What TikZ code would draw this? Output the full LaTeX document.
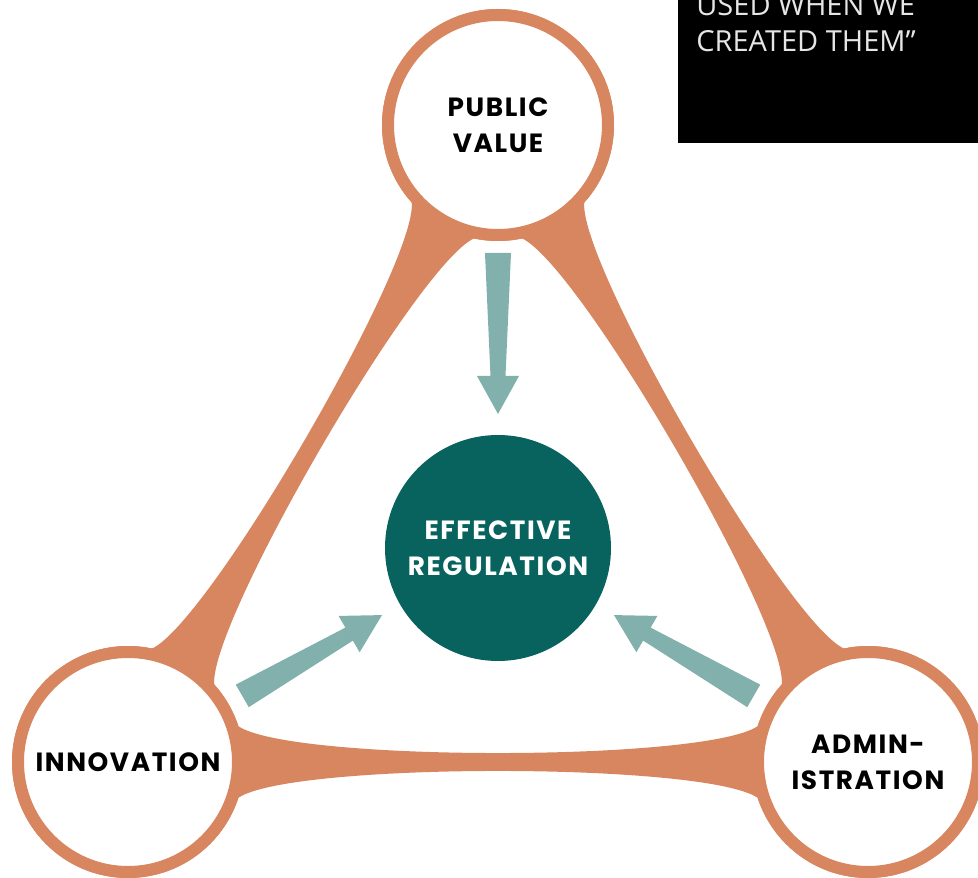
\documentclass[tikz,border=0pt]{standalone}
\usepackage{fontspec}
\newfontfamily\labelfont{Poppins}[LetterSpace=6]
\newfontfamily\quotefont{Open Sans}
\usetikzlibrary{calc}
\definecolor{ringorange}{HTML}{D8865F}
\definecolor{deepteal}{HTML}{08635F}
\definecolor{paleteal}{HTML}{82B0AC}
\definecolor{quotegray}{HTML}{E6E6E6}

% tapered arrow from coordinate #1 (tail) to coordinate #2 (tip)
\newcommand{\flowarrow}[2]{%
  \coordinate (hb) at ($(#2)!0.76cm!(#1)$);
  \fill[flow] ($(#1)!0.26cm!90:(#2)$) -- ($(hb)!0.15cm!90:(#2)$)
    -- ($(hb)!0.42cm!90:(#2)$) -- (#2) -- ($(hb)!0.42cm!-90:(#2)$)
    -- ($(hb)!0.15cm!-90:(#2)$) -- ($(#1)!0.26cm!-90:(#2)$) -- cycle;}

\begin{document}
\begin{tikzpicture}
        \tikzset{hub/.style = {shape=circle,draw=ringorange,fill=white,line width=0.24cm,minimum size=4.4cm,inner sep=0pt,align=center,font=\labelfont\bfseries\fontsize{15}{20.5}\selectfont}}
        \tikzset{core/.style = {shape=circle,fill=deepteal,text=white,minimum size=4.52cm,inner sep=0pt,align=center,font=\labelfont\bfseries\fontsize{15}{20.5}\selectfont}}
        \tikzset{band/.style = {fill=ringorange}}
        \tikzset{flow/.style = {fill=paleteal}}
        \useasboundingbox (0,0) rectangle (19.56,17.54);
        % quote box, cut at the top
        \fill[black] (13.56,14.68) rectangle (19.56,17.54);
        \node[anchor=base west,align=left,inner sep=0pt,text=quotegray,font=\quotefont\fontsize{16.5}{21}\selectfont] (quote) at (13.92,16.5) {USED WHEN WE\\CREATED THEM”};
        % the three outer circles
        \coordinate (pvc) at (9.96,15.04);
        \coordinate (innc) at (2.56,2.30);
        \coordinate (admc) at (17.36,2.30);
        \node[hub] (pv) at (pvc) {};
        \node[hub] (inn) at (innc) {};
        \node[hub] (adm) at (admc) {};
        % bands between them
        \fill[band] (pv.222) .. controls ($(pvc)!0.22!(innc)$) and ($(pvc)!0.78!(innc)$) .. (inn.78)
          -- (inn.42) .. controls ($(pvc)!0.78!(innc)$) and ($(pvc)!0.22!(innc)$) .. (pv.258) -- cycle;
        \fill[band] (pv.318) .. controls ($(pvc)!0.22!(admc)$) and ($(pvc)!0.78!(admc)$) .. (adm.102)
          -- (adm.138) .. controls ($(pvc)!0.78!(admc)$) and ($(pvc)!0.22!(admc)$) .. (pv.282) -- cycle;
        \fill[band] (inn.18) .. controls ($(innc)!0.22!(admc)$) and ($(innc)!0.78!(admc)$) .. (adm.162)
          -- (adm.198) .. controls ($(innc)!0.78!(admc)$) and ($(innc)!0.22!(admc)$) .. (inn.-18) -- cycle;
        % circles again on top of the bands
        \node[hub] at (pvc) {PUBLIC\\VALUE};
        \node[hub] at (innc) {INNOVATION};
        \node[hub] at (admc) {ADMIN-\\ISTRATION};
        % centre
        \node[core] (er) at (9.96,6.58) {EFFECTIVE\\REGULATION};
        % arrows into the centre
        \coordinate (t1) at ($(pvc)!2.56cm!(er)$);
        \coordinate (p1) at ($(er)!2.68cm!(pvc)$);
        \coordinate (t2) at ($(innc)!2.64cm!(er)$);
        \coordinate (p2) at ($(er)!2.68cm!(innc)$);
        \coordinate (t3) at ($(admc)!2.64cm!(er)$);
        \coordinate (p3) at ($(er)!2.68cm!(admc)$);
        \flowarrow{t1}{p1}
        \flowarrow{t2}{p2}
        \flowarrow{t3}{p3}
\end{tikzpicture}
\end{document}
